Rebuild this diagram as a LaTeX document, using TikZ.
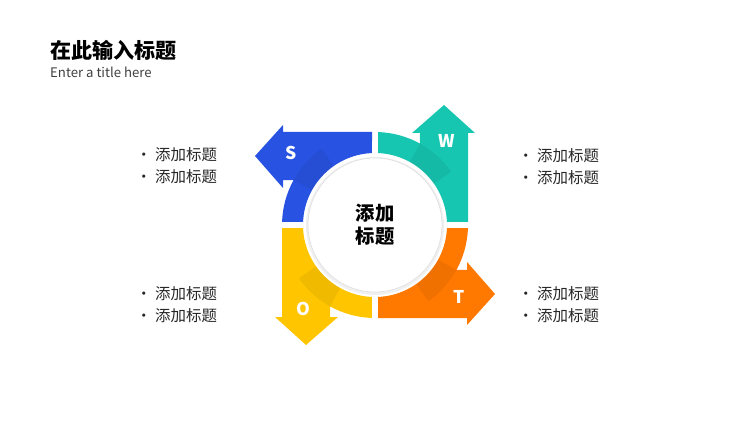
\documentclass[tikz,border=0pt]{standalone}
\usepackage{fontspec}
\setmainfont{Noto Sans CJK SC}
\usetikzlibrary{calc}
\definecolor{sblue}{HTML}{2853E2}
\definecolor{wteal}{HTML}{17C6B1}
\definecolor{torange}{HTML}{FF7800}
\definecolor{oyellow}{HTML}{FFC600}
\tikzset{
  letter/.style={text=white,font=\bfseries\fontsize{10}{10}\selectfont},
  bullet/.style={anchor=west,font=\fontsize{8.8}{12.5}\selectfont,align=left,text=black!85}
}
\begin{document}
\begin{tikzpicture}[x=0.02cm,y=-0.02cm]
\useasboundingbox (0,0) rectangle (750,422);
\node[anchor=west,font=\bfseries\fontsize{12}{12}\selectfont] (title) at (44,50) {在此输入标题};
\node[anchor=west,font=\fontsize{7.5}{8}\selectfont,text=black!75] (sub) at (44,72) {Enter a title here};
% four arrows of the ring
\foreach \col/\lab/\k in {sblue/S/0,oyellow/O/1,torange/T/2,wteal/W/3}{
  \begin{scope}[shift={(375,225)},rotate=\k*90]
    \fill[\col] (-3,-93) -- (-92,-93) -- (-92,-100) -- (-120,-69) -- (-92,-37) -- (-92,-45)
      -- (208.9:93) arc[start angle=208.9,end angle=182,radius=93]
      -- (182.4:72) arc[start angle=182.4,end angle=267.6,radius=72] -- cycle;
    \fill[black,opacity=0.06] (208.9:93) arc[start angle=208.9,end angle=235,radius=93]
      -- (235:72) arc[start angle=235,end angle=208.9,radius=72] -- cycle;
    \node[letter] (lab\lab) at (-84,-72) {\lab};
  \end{scope}
}
\fill[black!6] (375,226) circle[radius=69];
\filldraw[fill=white,draw=black!12] (375,225) circle[radius=67];
\node[font=\bfseries\fontsize{11}{13}\selectfont,align=center] (mid) at (375,225) {添加\\标题};
% bullet lists
\node[bullet] (ls) at (130,166) {• 添加标题\\• 添加标题};
\node[bullet] (lo) at (130,305) {• 添加标题\\• 添加标题};
\node[bullet] (rw) at (512,167) {• 添加标题\\• 添加标题};
\node[bullet] (rt) at (512,305) {• 添加标题\\• 添加标题};
\end{tikzpicture}
\end{document}
